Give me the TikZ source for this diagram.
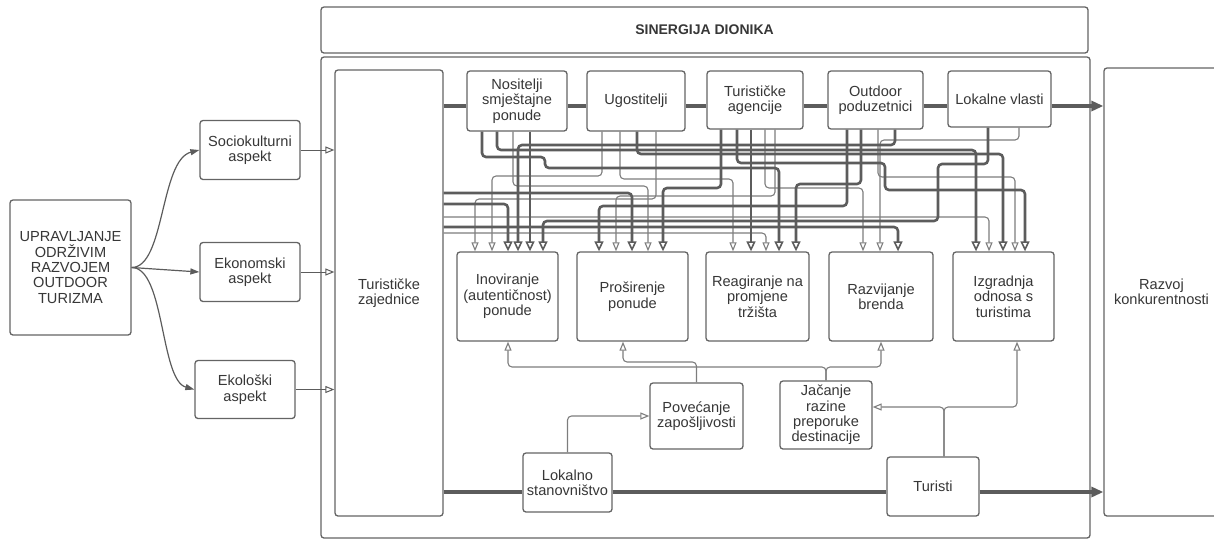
\documentclass[tikz,border=0pt]{standalone}
\usepackage{fontspec}
\setmainfont{Liberation Sans}
\usetikzlibrary{arrows.meta}
\definecolor{lc}{RGB}{92,92,92}
\definecolor{ltc}{RGB}{125,125,125}
\definecolor{tc}{RGB}{55,55,55}
\definecolor{bc}{RGB}{100,100,100}
\begin{document}
\begin{tikzpicture}[x=1pt,y=-1pt,
  box/.style={draw=bc, line width=1.3pt, rounded corners=3pt, fill=white, align=center, inner sep=0pt, text=tc, font=\fontsize{14.6}{15.4}\selectfont},
  thk/.style={draw=lc, line width=2.6pt, rounded corners=4pt, -{Triangle[open,length=10pt,width=9pt,line width=1.6pt]}},
  thn/.style={draw=ltc, line width=1.1pt, rounded corners=4pt, -{Triangle[open,length=9pt,width=7pt,fill=white]}},
  flow/.style={draw=lc, line width=4pt},
  curv/.style={draw=lc, line width=1.2pt, -{Triangle[length=9pt,width=6pt]}},
  asp/.style={draw=lc, line width=1pt, -{Triangle[open,length=9pt,width=7pt,fill=white]}}
]
\useasboundingbox (0,0) rectangle (1214,542);
% containers
\node[box, minimum width=767pt, minimum height=46pt, font=\fontsize{14}{15.3}\selectfont\bfseries] (sin) at (704.5,30) {SINERGIJA DIONIKA};
\node[box, fill=none, minimum width=769pt, minimum height=481pt] (frame) at (705.5,297.5) {};
\node[box, minimum width=108pt, minimum height=446pt] (tz) at (389,293) {Turističke\\zajednice};
\node[box, minimum width=115pt, minimum height=448pt] (raz) at (1161.5,292) {Razvoj\\konkurentnosti};
% left side
\node[box, minimum width=121pt, minimum height=135pt] (up) at (70.5,267.5) {UPRAVLJANJE\\ODRŽIVIM\\RAZVOJEM\\OUTDOOR\\TURIZMA};
\node[box, minimum width=100pt, minimum height=59pt] (soc) at (250,150) {Sociokulturni\\aspekt};
\node[box, minimum width=100pt, minimum height=59pt] (eko) at (250,272) {Ekonomski\\aspekt};
\node[box, minimum width=100pt, minimum height=58pt] (ekl) at (245,389.5) {Ekološki\\aspekt};
% stakeholders
\node[box, minimum width=100pt, minimum height=60pt] (nos) at (517,101) {Nositelji\\smještajne\\ponude};
\node[box, minimum width=98pt, minimum height=60pt] (ugo) at (636,101) {Ugostitelji};
\node[box, minimum width=96pt, minimum height=58pt] (tag) at (755,100) {Turističke\\agencije};
\node[box, minimum width=95pt, minimum height=58pt] (out) at (875.5,100) {Outdoor\\poduzetnici};
\node[box, minimum width=103pt, minimum height=56pt] (lok) at (999.5,99) {Lokalne vlasti};
% goals
\node[box, minimum width=101pt, minimum height=89pt] (ino) at (507.5,296.5) {Inoviranje\\(autentičnost)\\ponude};
\node[box, minimum width=111pt, minimum height=89pt] (pro) at (632.5,296.5) {Proširenje\\ponude};
\node[box, minimum width=103pt, minimum height=89pt] (rea) at (757.5,296.5) {Reagiranje na\\promjene\\tržišta};
\node[box, minimum width=104pt, minimum height=89pt] (rzb) at (881,296.5) {Razvijanje\\brenda};
\node[box, minimum width=101pt, minimum height=89pt] (izg) at (1003.5,296.5) {Izgradnja\\odnosa s\\turistima};
% lower
\node[box, minimum width=93pt, minimum height=66pt] (pov) at (696.5,416) {Povećanje\\zapošljivosti};
\node[box, minimum width=92pt, minimum height=68pt] (jac) at (826,415) {Jačanje\\razine\\preporuke\\destinacije};
\node[box, minimum width=89pt, minimum height=59pt] (los) at (567.5,482.5) {Lokalno\\stanovništvo};
\node[box, minimum width=92pt, minimum height=59pt] (tur) at (933,486.5) {Turisti};
% left curves
\draw[curv] (up.east) .. controls (165,267.5) and (160,160) .. (soc.west);
\draw[curv] (up.east) -- (eko.west);
\draw[curv] (up.east) .. controls (165,267.5) and (160,380) .. (ekl.west);
\draw[asp] (soc.east) -- (tz.west |- soc.east);
\draw[asp] (eko.east) -- (tz.west |- eko.east);
\draw[asp] (ekl.east) -- (tz.west |- ekl.east);
% main flows
\draw[flow] (tz.east |- 0,106) -- (nos.west |- 0,106);
\draw[flow] (nos.east |- 0,106) -- (ugo.west |- 0,106);
\draw[flow] (ugo.east |- 0,106) -- (tag.west |- 0,106);
\draw[flow] (tag.east |- 0,106) -- (out.west |- 0,106);
\draw[flow] (out.east |- 0,106) -- (lok.west |- 0,106);
\draw[flow, -{Triangle[length=12pt,width=10pt]}] (lok.east |- 0,106) -- (raz.west |- 0,106);
\draw[flow] (tz.east |- 0,492) -- (los.west |- 0,492);
\draw[flow] (los.east |- 0,492) -- (tur.west |- 0,492);
\draw[flow, -{Triangle[length=12pt,width=10pt]}] (tur.east |- 0,492) -- (raz.west |- 0,492);
% thin network
\draw[thn] (nos.south -| 513,0) |- (648,186) -- (pro.north -| 648,0);
\draw[thn] (ugo.south -| 602,0) |- (492,176) -- (ino.north -| 492,0);
\draw[thn] (ugo.south -| 620,0) |- (733,179) -- (rea.north -| 733,0);
\draw[thn] (ugo.south -| 656,0) |- (475,199) -- (ino.north -| 475,0);
\draw[thn] (tag.south -| 765,0) |- (863,188) -- (rzb.north -| 863,0);
\draw[thn] (tag.south -| 775,0) |- (616,196) -- (pro.north -| 616,0);
\draw[thn] (out.south -| 878,0) |- (1015,177) -- (izg.north -| 1015,0);
\draw[thn] (lok.south -| 1019,0) |- (880,140) -- (rzb.north -| 880,0);
\draw[thn] (tz.east |- 0,217) -| (izg.north -| 989,0);
\draw[thn] (tz.east |- 0,233) -| (rea.north -| 766,0);
% thick network
\draw[thk] (nos.south -| 530,0) -- (ino.north -| 530,0);
\draw[thk] (nos.south -| 482,0) |- (545,157) |- (779,168) -- (rea.north -| 779,0);
\draw[thk] (nos.south -| 497,0) |- (976,150) -- (izg.north -| 976,0);
\draw[thk] (ugo.south -| 637,0) |- (1003,154) -- (izg.north -| 1003,0);
\draw[thk] (tag.south -| 721,0) |- (663,188) -- (pro.north -| 663,0);
\draw[thk] (tag.south -| 737,0) |- (885,163) |- (1025,190) -- (izg.north -| 1025,0);
\draw[thk] (tag.south -| 751,0) -- (rea.north -| 751,0);
\draw[thk] (out.south -| 847,0) |- (599,206) -- (pro.north -| 599,0);
\draw[thk] (out.south -| 861,0) |- (796,184) -- (rea.north -| 796,0);
\draw[thk] (out.south -| 895,0) |- (518,145) -- (ino.north -| 518,0);
\draw[thk] (lok.south -| 988,0) |- (938,164) |- (543,221) -- (ino.north -| 543,0);
\draw[thk] (tz.east |- 0,193) -| (pro.north -| 632,0);
\draw[thk] (tz.east |- 0,204) -| (ino.north -| 508,0);
\draw[thk] (tz.east |- 0,227) -| (rzb.north -| 898,0);
% feedback
\draw[thn] (jac.north) |- (508,367) -- (ino.south -| 508,0);
\draw[thn] (jac.north) |- (881,367) -- (rzb.south -| 881,0);
\draw[thn] (pov.north) |- (623,362) -- (pro.south -| 623,0);
\draw[thn] (los.north) |- (pov.west);
\draw[thn] (tur.north -| 944,0) |- (jac.east |- 0,407);
\draw[thn] (tur.north -| 944,0) |- (1017,407) -- (izg.south -| 1017,0);
\end{tikzpicture}
\end{document}
